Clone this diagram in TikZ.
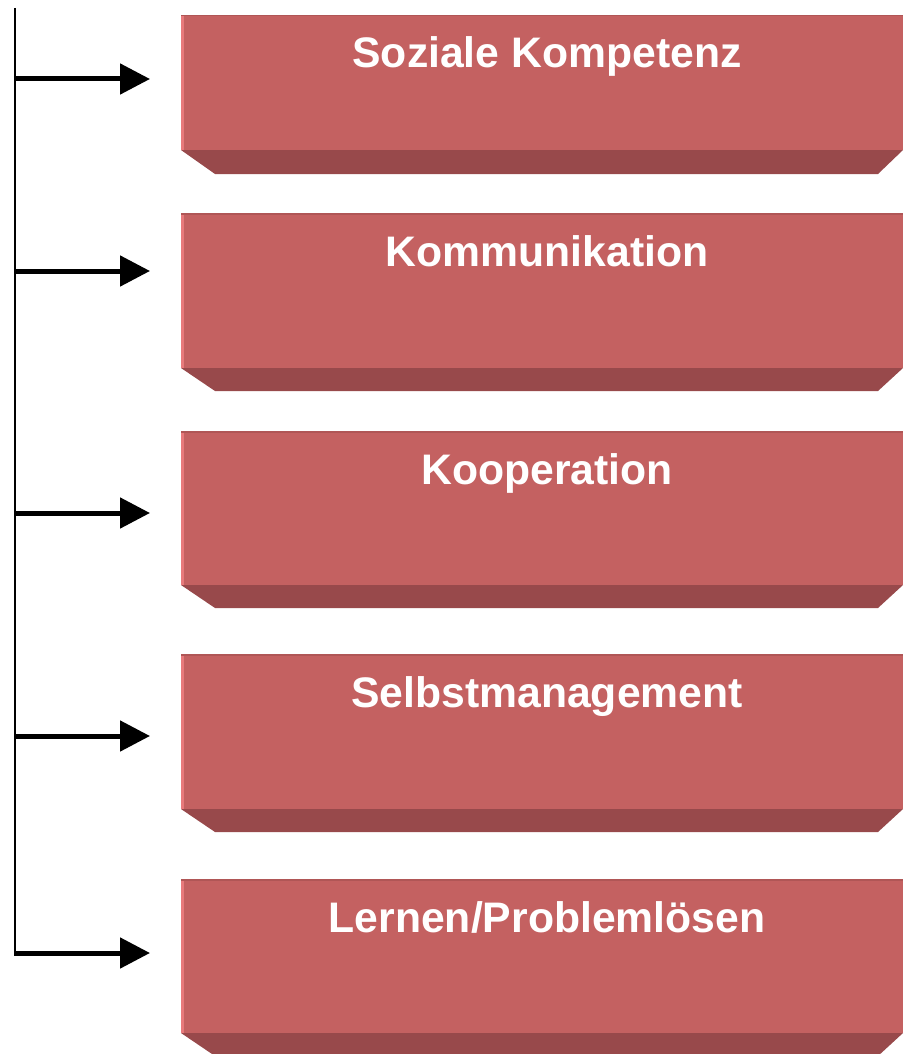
\documentclass[tikz,border=0pt]{standalone}
\usepackage{fontspec}
\setmainfont{Liberation Sans}
\usetikzlibrary{arrows.meta}
\definecolor{facecol}{RGB}{196,97,97}
\definecolor{bevelcol}{RGB}{152,73,75}
\definecolor{hlcol}{RGB}{232,122,124}
\definecolor{topcol}{RGB}{176,86,86}
\begin{document}
\begin{tikzpicture}[x=1pt,y=-1pt,
  facebox/.style={fill=facecol, draw=none, inner sep=0pt, outer sep=0pt, anchor=north west, minimum width=722pt},
  boxtext/.style={text=white, font=\fontsize{42.7}{48}\selectfont\bfseries, anchor=base, inner sep=0pt},
  arr/.style={line width=5pt, -{Triangle[length=30pt,width=30pt]}},
  spine/.style={line width=2.2pt}]
\useasboundingbox (0,0) rectangle (903,1054);
\fill[white] (0,0) rectangle (903,1054);
\foreach \n/\t/\b/\v/\a/\txt in {1/15/150/174/79/{Soziale Kompetenz},2/213/368/391/271/{Kommunikation},3/431/585/608/513/{Kooperation},4/654/809/832/736/{Selbstmanagement},5/879/1033/1056/953/{Lernen/Problemlösen}}{
  \fill[bevelcol] (181,\b) -- (903,\b) -- (878,\v) -- (215,\v) -- cycle;
  \node[facebox, minimum height={(\b-\t)*1pt}] (box\n) at (181,\t) {};
  \fill[hlcol] (181,\t) rectangle (184,\b);
  \fill[topcol] (181,\t) rectangle (903,\t+1.5);
  \node[boxtext] (txt\n) at (547,\t+53) {\txt};
  \coordinate (s\n) at (15,\a);
  \coordinate (e\n) at (150,\a);
  \draw[arr] (s\n) -- (e\n);
}
\coordinate (ltop) at (15,8);
\coordinate (lbot) at (15,955.5);
\draw[spine] (ltop) -- (lbot);
\end{tikzpicture}
\end{document}
